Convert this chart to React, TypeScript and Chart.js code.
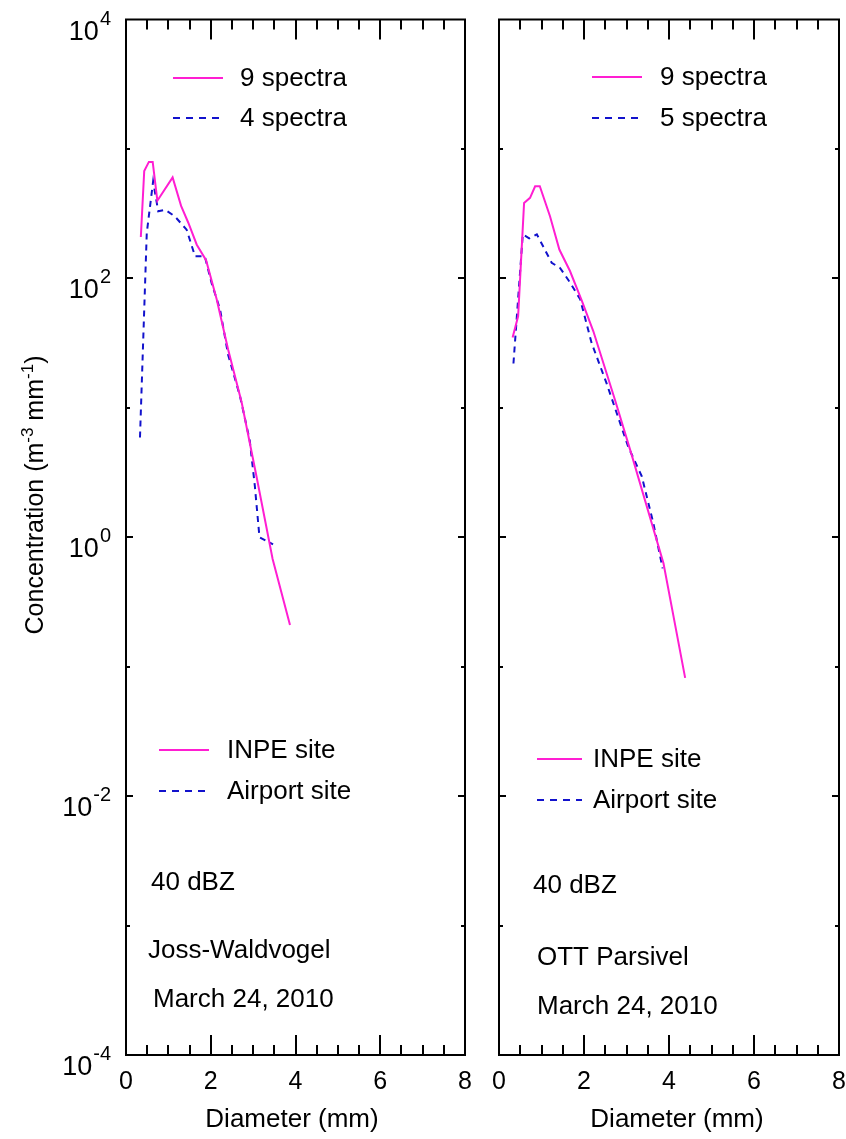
import { useEffect, useRef } from "react";
import { Chart, registerables } from "chart.js";

Chart.register(...registerables);

const W = 846;
const H = 1139;
const FONT = '"Liberation Sans", Arial, Helvetica, sans-serif';
const INPE_COLOR = "#ff1ed2";
const AIRPORT_COLOR = "#1212cc";

// Joss-Waldvogel disdrometer, drop diameter (mm) and concentration (m^-3 mm^-1)
const jwInpeDiameter = [0.35, 0.43, 0.54, 0.63, 0.74, 1.1, 1.3, 1.47, 1.67, 1.89, 2.14, 2.41, 2.73, 3.08, 3.46, 3.87];
const jwInpeConc = [209, 676, 794, 794, 398, 603, 363, 269, 182, 138, 69, 28.2, 11.0, 2.95, 0.68, 0.21];
const jwAirportDiameter = [0.33, 0.49, 0.64, 0.76, 0.92, 1.15, 1.43, 1.63, 1.86, 2.02, 2.22, 2.41, 2.69, 2.92, 3.04, 3.15, 3.47];
const jwAirportConc = [5.9, 224, 562, 330, 339, 302, 238, 148, 148, 92, 57.5, 25.7, 12.3, 5.6, 2.5, 1.0, 0.88];

// OTT Parsivel disdrometer
const psInpeDiameter = [0.32, 0.45, 0.59, 0.73, 0.85, 0.96, 1.2, 1.42, 1.67, 1.95, 2.22, 2.73, 3.12, 3.87, 4.38];
const psInpeConc = [35, 51, 383, 419, 515, 515, 302, 167, 114, 67, 39, 11.5, 4.35, 0.63, 0.082];
const psAirportDiameter = [0.34, 0.56, 0.71, 0.89, 1.24, 1.44, 1.67, 1.91, 2.18, 2.53, 3.04, 3.36, 3.63, 3.85];
const psAirportConc = [22, 219, 204, 219, 132, 120, 93, 69, 31.6, 15.5, 5.0, 2.95, 1.29, 0.575];

// Axis ticks
const diameterLabels = [0, 2, 4, 6, 8];
const diameterMinorStep = 0.5;
const concExponents = [4, 2, 0, -2, -4];
const concDecades = [3, 2, 1, 0, -1, -2, -3];

// Texts
const jwSpectra = ["9 spectra", "4 spectra"];
const psSpectra = ["9 spectra", "5 spectra"];
const siteNames = ["INPE site", "Airport site"];
const jwNotes = ["40 dBZ", "Joss-Waldvogel", "March 24, 2010"];
const psNotes = ["40 dBZ", "OTT Parsivel", "March 24, 2010"];
const xTitle = "Diameter (mm)";

const TEXT_FONT = `26px ${FONT}`;

type Pt = { x: number; y: number };
const toPoints = (xs: number[], ys: number[]): Pt[] => xs.map((x, i) => ({ x, y: ys[i] }));

interface LegendSpec {
  labels: string[];
  x0: number;
  x1: number;
  tx: number;
  ys: number[];
}

interface PanelSpec {
  area: { left: number; top: number; right: number; bottom: number };
  inpe: Pt[];
  airport: Pt[];
  yLabels: boolean;
  spectra: LegendSpec;
  sites: LegendSpec;
  notes: { text: string; x: number; y: number }[];
  xTitleX: number;
}

const panels: PanelSpec[] = [
  {
    area: { left: 126, top: 19.5, right: 465, bottom: 1055 },
    inpe: toPoints(jwInpeDiameter, jwInpeConc),
    airport: toPoints(jwAirportDiameter, jwAirportConc),
    yLabels: true,
    spectra: { labels: jwSpectra, x0: 173, x1: 223, tx: 240, ys: [78, 118] },
    sites: { labels: siteNames, x0: 159, x1: 209, tx: 227, ys: [750, 791] },
    notes: [
      { text: jwNotes[0], x: 151, y: 890 },
      { text: jwNotes[1], x: 148, y: 958 },
      { text: jwNotes[2], x: 153, y: 1007 },
    ],
    xTitleX: 292,
  },
  {
    area: { left: 499, top: 19.5, right: 839, bottom: 1055 },
    inpe: toPoints(psInpeDiameter, psInpeConc),
    airport: toPoints(psAirportDiameter, psAirportConc),
    yLabels: false,
    spectra: { labels: psSpectra, x0: 592, x1: 642, tx: 660, ys: [77, 118] },
    sites: { labels: siteNames, x0: 537, x1: 582, tx: 593, ys: [759, 800] },
    notes: [
      { text: psNotes[0], x: 533, y: 893 },
      { text: psNotes[1], x: 537, y: 965 },
      { text: psNotes[2], x: 537, y: 1014 },
    ],
    xTitleX: 677,
  },
];

function drawLegend(ctx: CanvasRenderingContext2D, lg: LegendSpec) {
  ctx.font = TEXT_FONT;
  ctx.textAlign = "left";
  ctx.textBaseline = "middle";
  lg.labels.forEach((label, i) => {
    const y = lg.ys[i];
    ctx.save();
    ctx.strokeStyle = i === 0 ? INPE_COLOR : AIRPORT_COLOR;
    ctx.lineWidth = 2;
    ctx.setLineDash(i === 0 ? [] : [7, 6]);
    ctx.beginPath();
    ctx.moveTo(lg.x0, y);
    ctx.lineTo(lg.x1, y);
    ctx.stroke();
    ctx.restore();
    ctx.fillStyle = "#000";
    ctx.fillText(label, lg.tx, y + 1);
  });
}

function makeDecor(spec: PanelSpec) {
  return {
    id: "panelDecor",
    afterDraw(chart: Chart) {
      const ctx = chart.ctx;
      const xs = chart.scales.x;
      const ys = chart.scales.y;
      const { left, top, right, bottom } = chart.chartArea;
      ctx.save();
      ctx.strokeStyle = "#000";
      ctx.fillStyle = "#000";
      ctx.lineWidth = 2;
      ctx.setLineDash([]);

      // frame
      ctx.strokeRect(left, top, right - left, bottom - top);

      // diameter ticks, inward at bottom and top
      ctx.beginPath();
      for (let v = diameterMinorStep; v < 8; v += diameterMinorStep) {
        const px = Math.round(xs.getPixelForValue(v));
        const len = v % 2 === 0 ? 20 : 10;
        ctx.moveTo(px, bottom);
        ctx.lineTo(px, bottom - len);
        ctx.moveTo(px, top);
        ctx.lineTo(px, top + len);
      }
      // concentration ticks, inward at left and right
      concDecades.forEach((e) => {
        const py = Math.round(ys.getPixelForValue(Math.pow(10, e)));
        const len = e % 2 === 0 ? 7 : 4;
        ctx.moveTo(left, py);
        ctx.lineTo(left + len, py);
        ctx.moveTo(right, py);
        ctx.lineTo(right - len, py);
      });
      ctx.stroke();

      // diameter tick labels
      ctx.font = `25px ${FONT}`;
      ctx.textAlign = "center";
      ctx.textBaseline = "alphabetic";
      diameterLabels.forEach((v) => {
        ctx.fillText(String(v), xs.getPixelForValue(v), 1089);
      });

      // x title
      ctx.font = TEXT_FONT;
      ctx.fillText(xTitle, spec.xTitleX, 1127);

      if (spec.yLabels) {
        // powers of ten on the concentration axis
        concExponents.forEach((e) => {
          const py = ys.getPixelForValue(Math.pow(10, e));
          const sup = String(e);
          ctx.font = `20px ${FONT}`;
          const ws = ctx.measureText(sup).width;
          ctx.font = `27px ${FONT}`;
          const wb = ctx.measureText("10").width;
          const xEnd = 111;
          const base = py + 20;
          ctx.textAlign = "left";
          ctx.fillText("10", xEnd - ws - wb - 1, base);
          ctx.font = `20px ${FONT}`;
          ctx.fillText(sup, xEnd - ws, base - 15);
        });

        // y title with superscripts, rotated
        const parts: [string, boolean][] = [
          ["Concentration (m", false],
          ["-3", true],
          [" mm", false],
          ["-1", true],
          [")", false],
        ];
        const bigF = `25px ${FONT}`;
        const smallF = `17px ${FONT}`;
        let total = 0;
        parts.forEach(([t, s]) => {
          ctx.font = s ? smallF : bigF;
          total += ctx.measureText(t).width;
        });
        ctx.save();
        ctx.translate(43, 495);
        ctx.rotate(-Math.PI / 2);
        ctx.textAlign = "left";
        let cx = -total / 2;
        parts.forEach(([t, s]) => {
          ctx.font = s ? smallF : bigF;
          ctx.fillText(t, cx, s ? -10 : 0);
          cx += ctx.measureText(t).width;
        });
        ctx.restore();
      }

      drawLegend(ctx, spec.spectra);
      drawLegend(ctx, spec.sites);

      ctx.font = TEXT_FONT;
      ctx.textAlign = "left";
      ctx.textBaseline = "alphabetic";
      spec.notes.forEach((n) => ctx.fillText(n.text, n.x, n.y));
      ctx.restore();
    },
  };
}

function Panel({ spec }: { spec: PanelSpec }) {
  const ref = useRef<HTMLCanvasElement | null>(null);
  useEffect(() => {
    if (!ref.current) return;
    const a = spec.area;
    const chart = new Chart(ref.current, {
      type: "line",
      data: {
        datasets: [
          {
            label: "INPE",
            data: spec.inpe,
            borderColor: INPE_COLOR,
            borderWidth: 2,
            pointRadius: 0,
            fill: false,
            tension: 0,
          },
          {
            label: "Airport",
            data: spec.airport,
            borderColor: AIRPORT_COLOR,
            borderWidth: 2,
            borderDash: [6, 5],
            pointRadius: 0,
            fill: false,
            tension: 0,
          },
        ],
      },
      options: {
        responsive: false,
        animation: false,
        devicePixelRatio: 1,
        events: [],
        layout: {
          padding: { left: a.left, top: a.top, right: W - a.right, bottom: H - a.bottom },
        },
        scales: {
          x: { type: "linear", min: 0, max: 8, display: false },
          y: { type: "logarithmic", min: 1e-4, max: 1e4, display: false },
        },
        plugins: { legend: { display: false }, tooltip: { enabled: false } },
      },
      plugins: [makeDecor(spec)],
    });
    return () => chart.destroy();
  }, [spec]);
  return (
    <canvas
      ref={ref}
      width={W}
      height={H}
      style={{ position: "absolute", left: 0, top: 0, width: W, height: H }}
    />
  );
}

export default function App() {
  return (
    <div style={{ position: "fixed", left: 0, top: 0, width: W, height: H, background: "#fff" }}>
      {panels.map((p, i) => (
        <Panel key={i} spec={p} />
      ))}
    </div>
  );
}
